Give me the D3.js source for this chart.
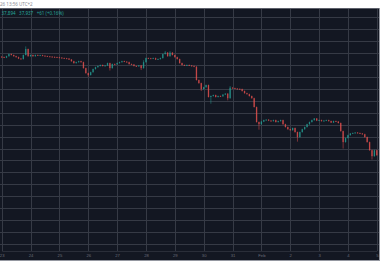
<!DOCTYPE html>
<html>
<head>
<meta charset="utf-8">
<script src="https://cdn.jsdelivr.net/npm/d3@7"></script>
<style>
  body { margin: 0; background: #fff; }
  svg { display: block; font-family: "Noto Sans", sans-serif; }
</style>
</head>
<body>
<div class="chart"></div>
<script>
// ____________________________ data ____________________________

// 2h candles from Jan 23 00:00, close prices
var closes = [
  38283, 38281, 38287, 38296, 38292, 38287, 38283, 38277, 38275, 38292,
  38317, 38287, 38292, 38287, 38292, 38290, 38291, 38289, 38287, 38286,
  38285, 38284, 38283, 38282, 38281, 38279, 38278, 38277, 38273, 38266,
  38258, 38262, 38266, 38262, 38237, 38216, 38208, 38220, 38233, 38241,
  38246, 38250, 38246, 38248, 38258, 38237, 38254, 38253, 38258, 38262,
  38266, 38264, 38262, 38254, 38252, 38246, 38245, 38248, 38237, 38262,
  38279, 38278, 38277, 38279, 38273, 38275, 38279, 38296, 38302, 38287,
  38302, 38292, 38283, 38275, 38258, 38250, 38248, 38250, 38248, 38246,
  38243, 38187, 38174, 38149, 38157, 38166, 38116, 38120, 38124, 38116,
  38120, 38119, 38126, 38130, 38111, 38155, 38153, 38151, 38150, 38149,
  38141, 38132, 38128, 38120, 38111, 38074, 38011, 38002, 38013, 38019,
  38021, 38017, 38015, 38019, 38011, 38015, 38019, 38002, 37990, 37981,
  37977, 37986, 37969, 37948, 37969, 37981, 37990, 38002, 38011, 38019,
  38026, 38017, 38019, 38015, 38017, 38019, 38015, 38009, 38015, 38013,
  38007, 37973, 37927, 37944, 37956, 37963, 37965, 37967, 37965, 37963,
  37960, 37948, 37927, 37893, 37868, 37893, 37872
];
var firstOpen = 38285;

// wicks that poke out of the bodies: [candle index, price]
var wickHighs = [[10, 38326], [68, 38307], [70, 38306], [95, 38160], [59, 38268]];
var wickLows = [[36, 38203], [45, 38229], [58, 38231], [87, 38090], [94, 38104],
                [107, 37981], [123, 37931], [142, 37902], [154, 37856], [83, 38143]];

var priceTicks = [37500, 37550, 37600, 37650, 37700, 37750, 37800, 37850, 37900, 37950,
                  38000, 38050, 38100, 38150, 38200, 38250, 38300, 38350, 38400, 38450];

var dayLabels = ["23", "24", "25", "26", "27", "28", "29", "30", "31", "Feb", "2", "3", "4", "5"];

var legendText = "37,894 \u00a0 37,937 \u00a0 +61 (+0.16%)";
var topText = "26 13:56 UTC+2";

// ________________________________________ chart ________________________________________

var width = 380;
var height = 280;
var panel = {left: 0, right: 379, top: 8, bottom: 260};
var plotBottom = 251;

var hour = 3600 * 1000;
var jan23 = Date.UTC(2022, 0, 23);

var candles = closes.map(function(c, i) {
    var o = i === 0 ? firstOpen : closes[i - 1];
    return {t: new Date(jan23 + i * 2 * hour), o: o, c: c,
            h: Math.max(o, c), l: Math.min(o, c)};
});
wickHighs.forEach(function(w) { candles[w[0]].h = w[1]; });
wickLows.forEach(function(w) { candles[w[0]].l = w[1]; });

var dayDates = dayLabels.map(function(d, i) { return new Date(jan23 + i * 24 * hour); });

const svg = d3.select(".chart")
    .append("svg")
    .attr("width", width)
    .attr("height", height);

const xScale = d3.scaleUtc()
    .domain([dayDates[0], dayDates[dayDates.length - 1]])
    .range([1.7, 376.8]);

const yScale = d3.scaleLinear()
    .domain([37500, 38450])
    .range([244, 17.3]);

// dark panel
svg.append("rect")
    .attr("x", panel.left).attr("y", panel.top)
    .attr("width", panel.right - panel.left).attr("height", panel.bottom - panel.top)
    .attr("fill", "#131722");

svg.append("defs").append("clipPath").attr("id", "plot")
    .append("rect")
    .attr("x", panel.left).attr("y", panel.top + 1)
    .attr("width", panel.right - panel.left).attr("height", plotBottom - panel.top - 1);

// grid
svg.append("g")
    .attr("class", "y grid")
    .attr("transform", `translate(${panel.right},0)`)
    .call(d3.axisLeft(yScale).tickValues(priceTicks).tickSize(panel.right).tickFormat(""))
    .call(g => g.select(".domain").remove())
    .call(g => g.selectAll("line").attr("stroke", "#363a45").attr("shape-rendering", "crispEdges"));

svg.append("g")
    .attr("class", "x grid")
    .attr("transform", `translate(0,${plotBottom})`)
    .call(d3.axisBottom(xScale).tickValues(dayDates).tickSize(-(plotBottom - panel.top)).tickFormat(""))
    .call(g => g.select(".domain").remove())
    .call(g => g.selectAll("line").attr("stroke", "#363a45").attr("shape-rendering", "crispEdges"));

// x axis labels
svg.append("g")
    .attr("class", "x Axis")
    .attr("transform", `translate(0,${plotBottom})`)
    .call(d3.axisBottom(xScale).tickValues(dayDates).tickSize(0).tickPadding(3)
        .tickFormat((d, i) => dayLabels[i]))
    .call(g => g.select(".domain").attr("stroke", "#2a2e39"))
    .call(g => g.selectAll("text").attr("fill", "#6a6d78").attr("font-size", "4.2px"));

// candles
var bw = 1.3;
const cg = svg.append("g").attr("clip-path", "url(#plot)").attr("opacity", 0.8);
cg.selectAll("line.wick")
    .data(candles)
    .join("line")
    .attr("class", "wick")
    .attr("x1", d => xScale(d.t)).attr("x2", d => xScale(d.t))
    .attr("y1", d => yScale(d.h) - 0.5).attr("y2", d => yScale(d.l) + 0.5)
    .attr("stroke", d => d.c >= d.o ? "#26a69a" : "#ef5350")
    .attr("stroke-width", 0.6);
cg.selectAll("rect.body")
    .data(candles)
    .join("rect")
    .attr("class", "body")
    .attr("x", d => xScale(d.t) - bw / 2)
    .attr("y", d => yScale(Math.max(d.o, d.c)))
    .attr("width", bw)
    .attr("height", d => Math.max(0.8, Math.abs(yScale(d.o) - yScale(d.c))))
    .attr("fill", d => d.c >= d.o ? "#26a69a" : "#ef5350");

// borders
svg.append("line")
    .attr("x1", 0).attr("x2", panel.right).attr("y1", panel.top + 0.5).attr("y2", panel.top + 0.5)
    .attr("stroke", "#5d606b");
svg.append("line")
    .attr("x1", 0).attr("x2", panel.right + 1).attr("y1", panel.bottom + 0.5).attr("y2", panel.bottom + 0.5)
    .attr("stroke", "#9598a1");
svg.append("line")
    .attr("x1", panel.right + 0.5).attr("x2", panel.right + 0.5).attr("y1", panel.top).attr("y2", panel.bottom)
    .attr("stroke", "#9598a1");

// texts
svg.append("text")
    .attr("x", 0).attr("y", 6)
    .attr("font-size", "4.5px").attr("fill", "#8a8d96")
    .text(topText);
svg.append("text")
    .attr("x", 1.5).attr("y", 15)
    .attr("font-size", "4.5px").attr("fill", "#26a69a")
    .text(legendText);
</script>
</body>
</html>
